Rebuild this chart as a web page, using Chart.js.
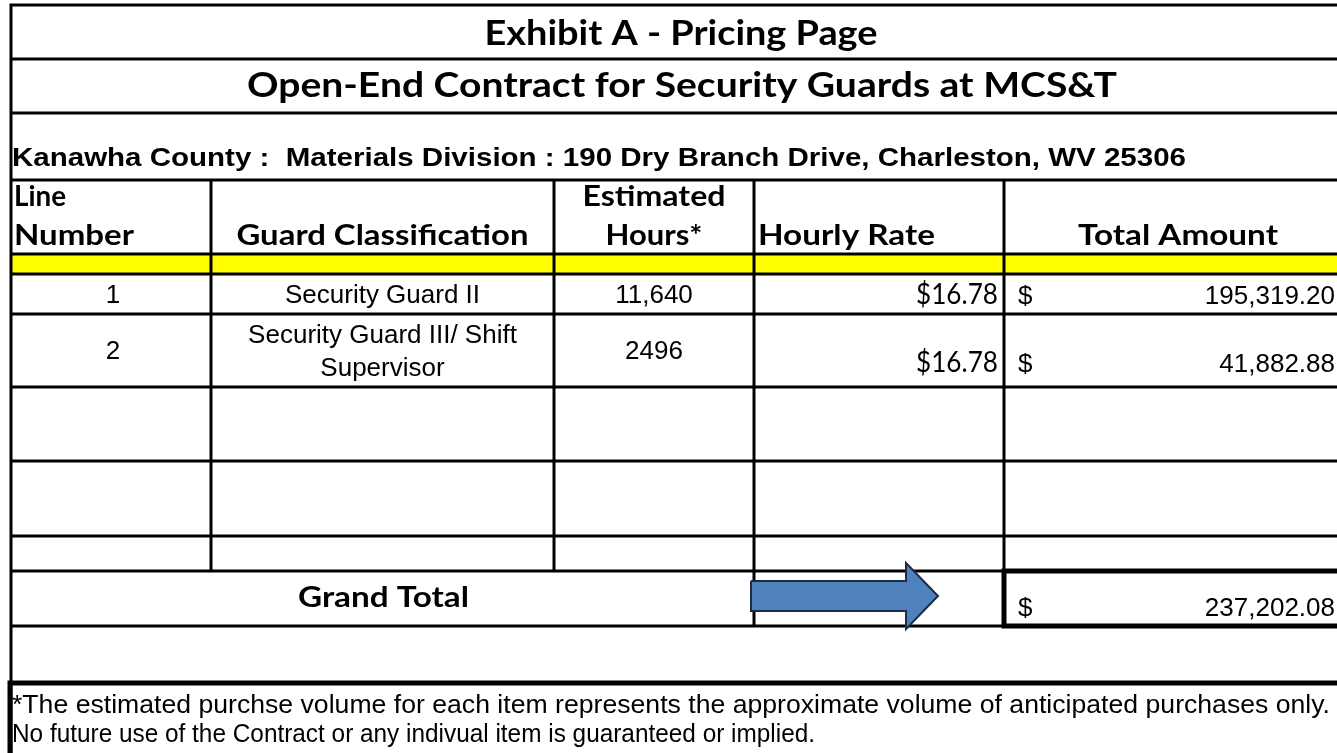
<!DOCTYPE html>
<html>
<head>
<meta charset="utf-8">
<title>Exhibit A - Pricing Page</title>
<script src="https://cdn.jsdelivr.net/npm/chart.js@4.4.1/dist/chart.umd.min.js"></script>
<style>
  html, body { margin: 0; padding: 0; background: #fff; }
  #wrap { width: 1337px; height: 753px; }
</style>
</head>
<body>
<div id="wrap"><canvas id="sheet" width="1337" height="753"></canvas></div>
<script>
// --- sheet content ---
const exhibitTitle  = 'Exhibit A - Pricing Page';
const contractTitle = 'Open-End Contract for Security Guards at MCS&T';
const addressLine   = 'Kanawha County :  Materials Division : 190 Dry Branch Drive, Charleston, WV 25306';
const headerLine1   = ['Line', '', 'Estimated', '', ''];
const headerLine2   = ['Number', 'Guard Classification', 'Hours*', 'Hourly Rate', 'Total Amount'];
const lineNumbers     = ['1', '2'];
const classifications = [['Security Guard II'], ['Security Guard III/ Shift', 'Supervisor']];
const estimatedHours  = ['11,640', '2496'];
const hourlyRates     = [16.78, 16.78];
const totalAmounts    = [195319.20, 41882.88];
const grandTotalLabel = 'Grand Total';
const grandTotal      = 237202.08;
const footnoteLines = [
  '*The estimated purchse volume for each item represents the approximate volume of anticipated purchases only.',
  'No future use of the Contract or any indivual item is guaranteed or implied.'
];

// --- layout (sheet units = pixels) ---
const W = 1337, H = 753;
const colX = [11, 211, 554, 754, 1004, W];
const rowY = [5, 59, 113, 180, 254, 274, 314, 387, 461, 536, 571, 626, 683];
const CAL = 'Lato, "Open Sans", sans-serif';
const ARIAL = '"Liberation Sans", Arial, sans-serif';

const money = v => v.toLocaleString('en-US', { minimumFractionDigits: 2, maximumFractionDigits: 2 });
const mid = i => (colX[i] + colX[i + 1]) / 2;

function segs(list) {
  const out = [];
  list.forEach(([x1, y1, x2, y2]) => out.push({ x: x1, y: y1 }, { x: x2, y: y2 }, { x: null, y: null }));
  return out;
}

// grid lines
const thinLines = [];
[0, 1, 2, 3, 4, 5, 6, 7, 8, 9].forEach(i => thinLines.push([colX[0], rowY[i], W, rowY[i]]));
thinLines.push([colX[0], rowY[10], colX[4], rowY[10]]);
thinLines.push([colX[0], rowY[11], colX[4], rowY[11]]);
thinLines.push([colX[0], rowY[0], colX[0], H]);
thinLines.push([colX[1], rowY[3], colX[1], rowY[10]]);
thinLines.push([colX[2], rowY[3], colX[2], rowY[10]]);
thinLines.push([colX[3], rowY[3], colX[3], rowY[11]]);
thinLines.push([colX[4], rowY[3], colX[4], rowY[10]]);

const thickLines = [
  [colX[4], rowY[10], W, rowY[10]],
  [colX[4], rowY[11], W, rowY[11]],
  [colX[4], rowY[10], colX[4], rowY[11]],
  [colX[0], rowY[12], W, rowY[12]],
  [colX[0] - 1, rowY[12], colX[0] - 1, H]
];

// yellow band under the header
const band = [
  { x: colX[0], y: rowY[4] }, { x: W, y: rowY[4] },
  { x: W, y: rowY[5] }, { x: colX[0], y: rowY[5] }, { x: colX[0], y: rowY[4] }
];

// block arrow pointing at the grand total
const ax0 = colX[3] - 3, ax1 = colX[3] + 152, ax2 = colX[3] + 184;
const ayc = rowY[10] + 25;
const arrow = [
  { x: ax0, y: ayc - 15 }, { x: ax1, y: ayc - 15 }, { x: ax1, y: ayc - 33 },
  { x: ax2, y: ayc }, { x: ax1, y: ayc + 33 }, { x: ax1, y: ayc + 15 },
  { x: ax0, y: ayc + 15 }, { x: ax0, y: ayc - 15 }
];

// text cells
const cells = [
  { t: exhibitTitle, x: 681, y: 45, a: 'center', f: `bold 34px ${CAL}`, w: 393 },
  { t: contractTitle, x: 682, y: 97, a: 'center', f: `bold 34px ${CAL}`, w: 870 },
  { t: addressLine, x: 12, y: 166, a: 'left', f: `bold 25px ${ARIAL}`, w: 1174 }
];
const hdrFont = `bold 28px ${CAL}`;
cells.push({ t: headerLine1[0], x: 14, y: 206, a: 'left', f: hdrFont, w: 52 });
cells.push({ t: headerLine2[0], x: 14, y: 245, a: 'left', f: hdrFont, w: 120 });
cells.push({ t: headerLine2[1], x: mid(1), y: 245, a: 'center', f: hdrFont, w: 292 });
cells.push({ t: headerLine1[2], x: mid(2), y: 206, a: 'center', f: hdrFont, w: 143 });
cells.push({ t: headerLine2[2], x: mid(2), y: 245, a: 'center', f: hdrFont, w: 97 });
cells.push({ t: headerLine2[3], x: colX[3] + 4, y: 245, a: 'left', f: hdrFont, w: 177 });
cells.push({ t: headerLine2[4], x: 1178, y: 245, a: 'center', f: hdrFont, w: 200 });

const body = `26px ${ARIAL}`;
const rateFont = `28px ${CAL}`;
const rowBase = [303, 359];
const moneyBase = [304, 372];
lineNumbers.forEach((n, i) => {
  cells.push({ t: n, x: mid(0) + 2, y: rowBase[i], a: 'center', f: body });
  const lines = classifications[i];
  lines.forEach((s, k) => {
    const y = lines.length === 1 ? rowBase[i] : rowBase[i] - 16 + k * 33;
    cells.push({ t: s, x: mid(1), y, a: 'center', f: body });
  });
  cells.push({ t: estimatedHours[i], x: mid(2), y: rowBase[i], a: 'center', f: body });
  cells.push({ t: '$' + hourlyRates[i].toFixed(2), x: colX[4] - 6, y: moneyBase[i], a: 'right', f: rateFont, w: 82 });
  cells.push({ t: '$', x: colX[4] + 14, y: moneyBase[i], a: 'left', f: body });
  cells.push({ t: money(totalAmounts[i]), x: W - 2, y: moneyBase[i], a: 'right', f: body });
});
cells.push({ t: grandTotalLabel, x: mid(1) + 1, y: 607, a: 'center', f: hdrFont, w: 171 });
cells.push({ t: '$', x: colX[4] + 14, y: 616, a: 'left', f: body });
cells.push({ t: money(grandTotal), x: W - 2, y: 616, a: 'right', f: body });
const noteFont = `25px ${ARIAL}`;
const noteWidths = [1318, 803];
footnoteLines.forEach((s, i) => {
  cells.push({ t: s, x: 12, y: 713 + i * 29, a: 'left', f: noteFont, w: noteWidths[i] });
});

const sheetText = {
  id: 'sheetText',
  afterDatasetsDraw(chart) {
    const { ctx, scales: { x, y } } = chart;
    cells.forEach(c => {
      ctx.save();
      ctx.font = c.f;
      ctx.fillStyle = '#000';
      ctx.textBaseline = 'alphabetic';
      ctx.textAlign = c.a;
      const sx = c.w ? c.w / ctx.measureText(c.t).width : 1;
      ctx.translate(x.getPixelForValue(c.x), y.getPixelForValue(c.y));
      ctx.scale(sx, 1);
      ctx.fillText(c.t, 0, 0);
      ctx.restore();
    });
  }
};

function build() {
  const lineSet = (data, width) => ({
    data, showLine: true, fill: false, borderColor: '#000', borderWidth: width,
    borderCapStyle: 'square', pointRadius: 0, spanGaps: false, tension: 0
  });
  new Chart(document.getElementById('sheet'), {
    type: 'scatter',
    data: {
      datasets: [
        { data: arrow, showLine: true, fill: 'shape', backgroundColor: '#4F81BD',
          borderColor: '#1c2c44', borderWidth: 2, pointRadius: 0, tension: 0 },
        lineSet(segs(thickLines), 5),
        lineSet(segs(thinLines), 3),
        { data: band, showLine: true, fill: 'shape', backgroundColor: '#FFFF00',
          borderWidth: 0, borderColor: '#FFFF00', pointRadius: 0, tension: 0 }
      ]
    },
    options: {
      responsive: false,
      animation: false,
      devicePixelRatio: 1,
      layout: { padding: 0 },
      events: [],
      scales: {
        x: { type: 'linear', min: 0, max: W, display: false },
        y: { type: 'linear', min: 0, max: H, reverse: true, display: false }
      },
      datasets: { scatter: { clip: false } },
      plugins: { legend: { display: false }, tooltip: { enabled: false } }
    },
    plugins: [sheetText]
  });
}

Promise.all([
  document.fonts.load(`bold 28px Lato`),
  document.fonts.load(`28px Lato`),
  document.fonts.load(`26px "Liberation Sans"`),
  document.fonts.load(`bold 22px "Liberation Sans"`)
]).then(build, build);
</script>
</body>
</html>
